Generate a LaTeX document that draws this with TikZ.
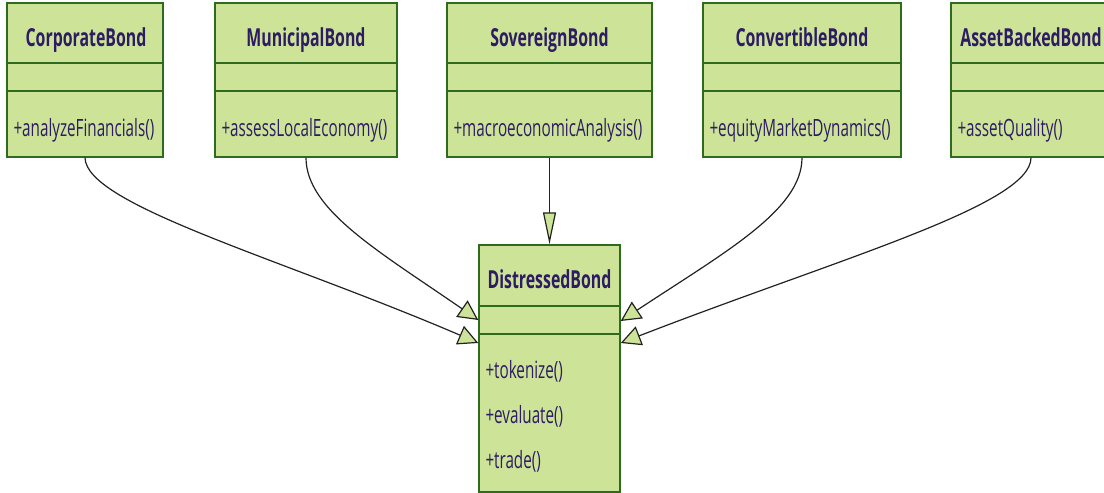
\documentclass[tikz,border=0pt]{standalone}
\usepackage{fontspec}
\newfontfamily\umlfont[FakeStretch=0.64]{Open Sans}
\usetikzlibrary{arrows.meta}
\definecolor{boxfill}{HTML}{CDE498}
\definecolor{boxline}{HTML}{2F6B1F}
\definecolor{umltext}{HTML}{2D1B64}
\definecolor{edge}{HTML}{222222}
\tikzset{
  classbox/.style={draw=boxline, fill=boxfill, line width=1.4pt, inner sep=0pt},
  ctitle/.style={font=\umlfont\bfseries\fontsize{24.8}{27}\selectfont, text=umltext, inner sep=0pt, anchor=base},
  cmethod/.style={font=\umlfont\fontsize{23.8}{26}\selectfont, text=umltext, inner sep=0pt, anchor=base west},
  sep/.style={draw=boxline, line width=1.4pt},
  inherit/.style={draw=edge, line width=1.2pt, -{Triangle[length=20pt,width=20pt,fill=boxfill]}},
  inheritv/.style={draw=edge, line width=1.2pt, -{Triangle[length=32pt,width=13pt,fill=boxfill]}}
}
\begin{document}
\begin{tikzpicture}[x=1pt,y=-1pt]
\useasboundingbox (0,0) rectangle (1104,493);
\begin{scope}
\clip (0,0) rectangle (1104,493);
% parent classes
\node[classbox, minimum width=156pt, minimum height=154pt] (cb) at (85,80) {};
\node[classbox, minimum width=182pt, minimum height=154pt] (mb) at (306,80) {};
\node[classbox, minimum width=205pt, minimum height=154pt] (sb) at (549.5,80) {};
\node[classbox, minimum width=198pt, minimum height=154pt] (vb) at (802,80) {};
\node[classbox, minimum width=160pt, minimum height=154pt] (ab) at (1031,80) {};
% child class
\node[classbox, minimum width=141pt, minimum height=247pt] (db) at (549.5,368.5) {};

% compartment separators
\foreach \n in {cb,mb,sb,vb,ab}{
  \draw[sep] (\n.west |- 0,63) -- (\n.east |- 0,63);
  \draw[sep] (\n.west |- 0,91) -- (\n.east |- 0,91);
}
\draw[sep] (db.west |- 0,306) -- (db.east |- 0,306);
\draw[sep] (db.west |- 0,334) -- (db.east |- 0,334);

% class names
\node[ctitle] (cbt) at (86,46) {CorporateBond};
\node[ctitle] (mbt) at (306,46) {MunicipalBond};
\node[ctitle] (sbt) at (549.5,46) {SovereignBond};
\node[ctitle] (vbt) at (802,46) {ConvertibleBond};
\node[ctitle] (abt) at (1031,46) {AssetBackedBond};
\node[ctitle] (dbt) at (549.5,288) {DistressedBond};

% methods
\node[cmethod] (cbm) at ([xshift=7pt]cb.west |- 0,136.5) {+analyzeFinancials()};
\node[cmethod] (mbm) at ([xshift=7pt]mb.west |- 0,136.5) {+assessLocalEconomy()};
\node[cmethod] (sbm) at ([xshift=7pt]sb.west |- 0,136.5) {+macroeconomicAnalysis()};
\node[cmethod] (vbm) at ([xshift=7pt]vb.west |- 0,136.5) {+equityMarketDynamics()};
\node[cmethod] (abm) at ([xshift=7pt]ab.west |- 0,136.5) {+assetQuality()};
\node[cmethod] (dbm1) at ([xshift=7pt]db.west |- 0,378.5) {+tokenize()};
\node[cmethod] (dbm2) at ([xshift=7pt]db.west |- 0,423.5) {+evaluate()};
\node[cmethod] (dbm3) at ([xshift=7pt]db.west |- 0,468.5) {+trade()};
\end{scope}

% inheritance arrows
\coordinate (dbw1) at (db.west |- 0,320);
\coordinate (dbw2) at (db.west |- 0,343);
\coordinate (dbe1) at (db.east |- 0,321);
\coordinate (dbe2) at (db.east |- 0,343);
\draw[inherit] (cb.south) .. controls (86,205) and (280,258) .. (dbw2);
\draw[inherit] (mb.south) .. controls (306,210) and (380,252) .. (dbw1);
\draw[inheritv] (sb.south) -- (db.north);
\draw[inherit] (vb.south) .. controls (802,210) and (725,252) .. (dbe1);
\draw[inherit] (ab.south) .. controls (1031,205) and (840,258) .. (dbe2);
\end{tikzpicture}
\end{document}
